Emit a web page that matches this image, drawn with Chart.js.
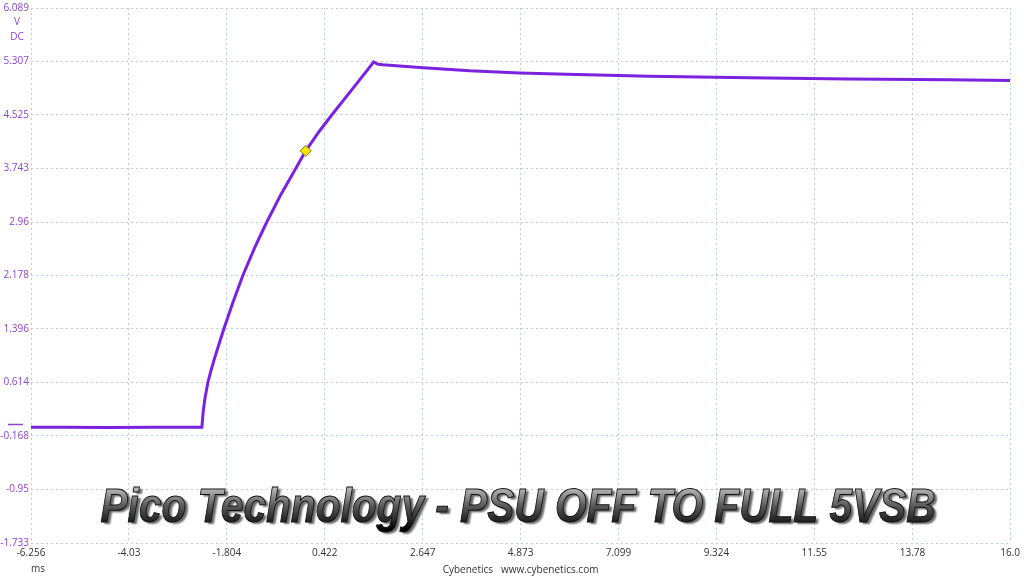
<!DOCTYPE html>
<html>
<head>
<meta charset="utf-8">
<script src="https://cdn.jsdelivr.net/npm/chart.js@4.4.1/dist/chart.umd.min.js"></script>
<style>
  html, body { margin: 0; padding: 0; background: #fff; }
  #wrap { width: 1024px; height: 576px; }
</style>
</head>
<body>
<div id="wrap"><canvas id="scope"></canvas></div>
<script>
// time in ms, voltage in V DC
const timeMs = [-6.256, -5.5, -4.5, -3.5, -2.8, -2.372, -2.34, -2.305, -2.236, -2.16, -2.077, -1.98, -1.873, -1.669, -1.441, -1.169, -0.896, -0.578, -0.238, -0.011, 0.29, 0.58, 1.057, 1.534, 1.62, 1.738, 2.578, 3.714, 4.849, 5.917, 7.801, 10.072, 12.343, 14.614, 16.0];
const voltsDc = [-0.04, -0.04, -0.045, -0.04, -0.04, -0.04, 0.2, 0.37, 0.614, 0.80, 0.98, 1.18, 1.396, 1.78, 2.178, 2.59, 2.96, 3.36, 3.743, 4.0, 4.28, 4.525, 4.91, 5.3, 5.27, 5.26, 5.22, 5.17, 5.14, 5.12, 5.09, 5.07, 5.05, 5.04, 5.03];

const markerTime = [-0.011];
const markerVolts = [4.0];

const xTickLabels = ['-6.256', '-4.03', '-1.804', '0.422', '2.647', '4.873', '7.099', '9.324', '11.55', '13.78', '16.0'];
const yTickLabels = ['6.089', '5.307', '4.525', '3.743', '2.96', '2.178', '1.396', '0.614', '-0.168', '-0.95', '-1.733'];

const titleText = 'Pico Technology - PSU OFF TO FULL 5VSB';
const traceColor = '#7a22e0';
const labelPurple = '#8e44d4';
const gridColor = '#bccfd6';

const extras = {
    id: 'extras',
    afterDatasetsDraw(chart) {
        const ctx = chart.ctx;
        const y = chart.scales.y;
        ctx.save();
        // zero level marker
        ctx.strokeStyle = labelPurple;
        ctx.lineWidth = 1.5;
        const y0 = Math.round(y.getPixelForValue(0)) + 0.5;
        ctx.beginPath();
        ctx.moveTo(8, y0);
        ctx.lineTo(23, y0);
        ctx.stroke();

        ctx.font = '10px "Open Sans"';
        ctx.fillStyle = labelPurple;
        ctx.textAlign = 'center';
        ctx.textBaseline = 'middle';
        ctx.fillText('V', 17, 22);
        ctx.fillText('DC', 17, 37);

        ctx.fillStyle = '#333';
        ctx.fillText('ms', 38, 569);

        // big title
        ctx.font = 'italic bold 48px "Liberation Sans", Arial, sans-serif';
        const w = ctx.measureText(titleText).width;
        const sx = 835 / w;
        ctx.translate(518, 522);
        ctx.scale(sx, 1);
        ctx.textAlign = 'center';
        ctx.textBaseline = 'alphabetic';
        const grad = ctx.createLinearGradient(0, -36, 0, 8);
        grad.addColorStop(0, '#c4c4c4');
        grad.addColorStop(0.45, '#5a5a5a');
        grad.addColorStop(1, '#000');
        ctx.shadowColor = 'rgba(0,0,0,0.6)';
        ctx.shadowOffsetX = 3;
        ctx.shadowOffsetY = 2;
        ctx.shadowBlur = 2;
        ctx.fillStyle = grad;
        ctx.fillText(titleText, 0, 0);
        ctx.shadowColor = 'transparent';
        ctx.strokeStyle = '#111';
        ctx.lineWidth = 1;
        ctx.strokeText(titleText, 0, 0);
        ctx.restore();
    }
};

new Chart(document.getElementById('scope'), {
    type: 'scatter',
    data: {
        datasets: [{
            label: 'marker',
            data: markerTime.map((t, i) => ({ x: t, y: markerVolts[i] })),
            pointStyle: 'rectRot',
            pointRadius: 5.5,
            pointBackgroundColor: '#f2e600',
            pointBorderColor: '#8a7a00',
            pointBorderWidth: 1,
            showLine: false
        }, {
            label: 'Channel A',
            data: timeMs.map((t, i) => ({ x: t, y: voltsDc[i] })),
            showLine: true,
            borderColor: traceColor,
            borderWidth: 3,
            pointRadius: 0,
            tension: 0
        }]
    },
    options: {
        responsive: true,
        maintainAspectRatio: false,
        animation: false,
        layout: { padding: { top: 8, right: 13, left: 0, bottom: 0 } },
        plugins: {
            legend: { display: false },
            tooltip: { enabled: false }
        },
        scales: {
            x: {
                type: 'linear',
                min: -6.256,
                max: 16.0,
                afterBuildTicks(s) { s.ticks = xTickLabels.map(v => ({ value: parseFloat(v) })); },
                afterFit(s) { s.height = 33; },
                grid: { color: gridColor, drawTicks: false, lineWidth: 1 },
                border: { display: false, dash: [2, 3] },
                ticks: {
                    autoSkip: false,
                    maxRotation: 0,
                    padding: 4,
                    color: '#333',
                    font: { family: 'Open Sans', size: 10 },
                    callback: (v, i) => xTickLabels[i]
                },
                title: {
                    display: true,
                    text: 'Cybenetics   www.cybenetics.com',
                    color: '#333',
                    font: { family: 'Open Sans', size: 10 },
                    padding: { top: 0, bottom: 0 }
                }
            },
            y: {
                min: -1.733,
                max: 6.089,
                afterBuildTicks(s) { s.ticks = yTickLabels.map(v => ({ value: parseFloat(v) })); },
                afterFit(s) { s.width = 31; },
                grid: { color: gridColor, drawTicks: false, lineWidth: 1 },
                border: { display: false, dash: [2, 3] },
                ticks: {
                    autoSkip: false,
                    padding: 2,
                    color: labelPurple,
                    font: { family: 'Open Sans', size: 10 },
                    callback: (v, i) => yTickLabels[i]
                }
            }
        }
    },
    plugins: [extras]
});
</script>
</body>
</html>
